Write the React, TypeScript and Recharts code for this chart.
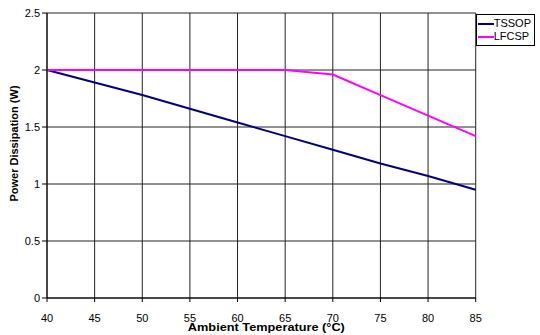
import React from "react";
import { LineChart, Line, XAxis, YAxis, CartesianGrid, Legend } from "recharts";

const temps = [40, 45, 50, 55, 60, 65, 70, 75, 80, 85];
const tssop = [2.0, 1.89, 1.78, 1.66, 1.54, 1.42, 1.3, 1.18, 1.07, 0.95];
const lfcsp = [2.0, 2.0, 2.0, 2.0, 2.0, 2.0, 1.96, 1.78, 1.6, 1.42];
const xTicks = [40, 45, 50, 55, 60, 65, 70, 75, 80, 85];
const yTicks = [0, 0.5, 1, 1.5, 2, 2.5];
const seriesNames = ["TSSOP", "LFCSP"];
const seriesColors = ["#000080", "#ff00ff"];

const data = temps.map((t, i) => ({ t, TSSOP: tssop[i], LFCSP: lfcsp[i] }));

const font = "'Liberation Sans', Arial, sans-serif";

const LegendBox = () => (
  <div style={{ border: "1px solid #000", background: "#fff", padding: "2px 3px 2px 1px", fontFamily: font, fontSize: 11, lineHeight: "13px" }}>
    {seriesNames.map((n, i) => (
      <div key={n} style={{ display: "flex", alignItems: "center" }}>
        <span style={{ display: "inline-block", width: 16, height: 2, background: seriesColors[i], marginRight: 0 }} />
        <span>{n}</span>
      </div>
    ))}
  </div>
);

const XLabel = (props: any) => {
  const vb = props.viewBox || {};
  return (
    <text
      x={vb.x + vb.width / 2 + 5}
      y={vb.y + vb.height - 4}
      textAnchor="middle"
      fontFamily={font}
      fontSize={11}
      fontWeight="bold"
      fill="#000"
      textLength={157}
      lengthAdjust="spacingAndGlyphs"
    >
      Ambient Temperature (°C)
    </text>
  );
};

const YLabel = (props: any) => {
  const vb = props.viewBox || {};
  const cx = 14;
  const cy = vb.y + vb.height / 2 - 12;
  return (
    <text
      x={cx}
      y={cy}
      transform={`rotate(-90, ${cx}, ${cy})`}
      textAnchor="middle"
      dominantBaseline="central"
      fontFamily={font}
      fontSize={11}
      fontWeight="bold"
      fill="#000"
    >
      Power Dissipation (W)
    </text>
  );
};

export default function App() {
  return (
    <div style={{ position: "absolute", left: 0, top: 0, width: 540, height: 335, background: "#fff" }}>
      <LineChart width={540} height={335} data={data} margin={{ top: 13, right: 5, left: 0, bottom: 0 }}>
        <CartesianGrid stroke="#222" strokeWidth={1} horizontal vertical />
        <XAxis
          dataKey="t"
          type="number"
          domain={[40, 85]}
          ticks={xTicks}
          interval={0}
          height={37}
          stroke="#000"
          tickSize={4}
          tickMargin={12}
          tick={{ fill: "#000", fontSize: 11, fontFamily: font }}
          label={<XLabel />}
        />
        <YAxis
          type="number"
          domain={[0, 2.5]}
          ticks={yTicks}
          interval={0}
          width={47}
          stroke="#000"
          tickSize={5}
          tickMargin={2}
          tick={{ fill: "#000", fontSize: 11, fontFamily: font }}
          label={<YLabel />}
        />
        <Legend layout="vertical" align="right" verticalAlign="top" wrapperStyle={{ top: 14, right: 5, width: "auto" }} content={<LegendBox />} />
        <Line type="linear" dataKey="TSSOP" stroke="#000080" strokeWidth={2} dot={false} isAnimationActive={false} />
        <Line type="linear" dataKey="LFCSP" stroke="#ff00ff" strokeWidth={2} dot={false} isAnimationActive={false} />
      </LineChart>
    </div>
  );
}
